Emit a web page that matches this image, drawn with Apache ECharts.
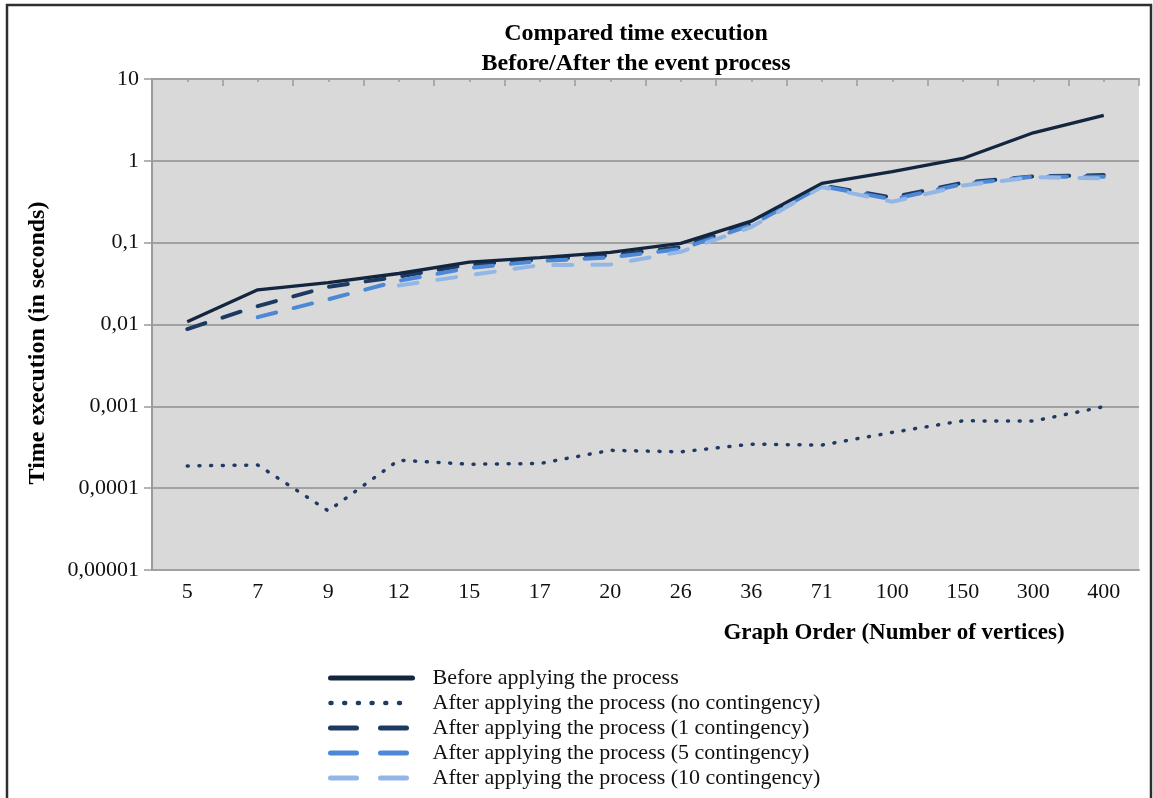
<!DOCTYPE html>
<html>
<head>
<meta charset="utf-8">
<script src="https://cdn.jsdelivr.net/npm/echarts@6/dist/echarts.min.js"></script>
<style>
html,body{margin:0;padding:0;background:#fff;}
#chart{width:1153px;height:798px;}
</style>
</head>
<body>
<div id="chart"></div>
<script>
// ---- data ----
const categories = ['5','7','9','12','15','17','20','26','36','71','100','150','300','400'];
const beforeProcess   = [0.0108, 0.0265, 0.0325, 0.042, 0.058, 0.0655, 0.076, 0.098, 0.183, 0.53, 0.74, 1.07, 2.2, 3.6];
const noContingency   = [0.000187, 0.000192, 0.0000528, 0.00022, 0.000196, 0.0002, 0.00029, 0.000278, 0.000345, 0.000336, 0.00048, 0.000665, 0.00066, 0.00099];
const oneContingency  = [0.0088, 0.0168, 0.0289, 0.0385, 0.054, 0.062, 0.07, 0.088, 0.17, 0.5, 0.357, 0.54, 0.645, 0.67];
const fiveContingency = [null, 0.0123, 0.0203, 0.0342, 0.049, 0.0597, 0.066, 0.0835, 0.164, 0.49, 0.338, 0.52, 0.64, 0.64];
const tenContingency  = [null, null, null, 0.030, 0.040, 0.053, 0.054, 0.0774, 0.155, 0.48, 0.316, 0.50, 0.63, 0.61];
const yTickLabels = ['0,00001','0,0001','0,001','0,01','0,1','1','10'];
const seriesNames = [
  'Before applying the process',
  'After applying the process (no contingency)',
  'After applying the process (1 contingency)',
  'After applying the process (5 contingency)',
  'After applying the process (10 contingency)'
];
const titleLines = ['Compared time execution', 'Before/After the event process'];
const yName = 'Time execution (in seconds)';
const xName = 'Graph Order (Number of vertices)';

const SERIF = '"Liberation Serif", "DejaVu Serif", serif';
const colors = ['#13263f', '#1f3a63', '#1d3a62', '#4c88d6', '#92b7e6'];

const chart = echarts.init(document.getElementById('chart'), null, {renderer: 'canvas'});

function lineSeries(i, data, lineStyle, z) {
  return {
    name: seriesNames[i],
    type: 'line',
    data: data,
    symbol: 'none',
    connectNulls: false,
    z: z,
    lineStyle: Object.assign({color: colors[i]}, lineStyle),
    itemStyle: {color: colors[i]}
  };
}

const option = {
  backgroundColor: '#ffffff',
  animation: false,
  title: {
    text: titleLines.join('\n'),
    left: 636,
    textAlign: 'center',
    top: 19,
    padding: 0,
    textStyle: {fontFamily: SERIF, fontWeight: 'bold', fontSize: 24, lineHeight: 30, color: '#000'}
  },
  grid: {
    left: 152, right: 14, top: 79, bottom: 228,
    show: true, backgroundColor: '#d9d9d9', borderWidth: 0
  },
  xAxis: [{
    type: 'category',
    data: categories,
    boundaryGap: true,
    position: 'bottom',
    axisLine: {show: true, lineStyle: {color: '#a0a0a0', width: 2}},
    axisTick: {show: false},
    axisLabel: {fontFamily: SERIF, fontSize: 22, color: '#111', margin: 11}
  }, {
    type: 'value',
    position: 'top',
    min: 0, max: 14, interval: 1,
    axisLine: {show: true, lineStyle: {color: '#a0a0a0', width: 2}},
    axisTick: {show: true, inside: true, length: 7, lineStyle: {color: '#9a9a9a', width: 1.5}},
    minorTick: {show: true, splitNumber: 2, length: 3, lineStyle: {color: '#9a9a9a', width: 1.5}},
    axisLabel: {show: false},
    splitLine: {show: false}
  }],
  yAxis: {
    type: 'log',
    logBase: 10,
    min: 0.00001,
    max: 10,
    interval: 1,
    axisLine: {show: true, lineStyle: {color: '#9a9a9a', width: 2}},
    axisTick: {show: true, length: 8, lineStyle: {color: '#9a9a9a', width: 1.5}},
    splitLine: {show: true, lineStyle: {color: '#8e8e8e', width: 1.5}},
    axisLabel: {
      fontFamily: SERIF, fontSize: 22, color: '#111', margin: 13,
      formatter: function (v) {
        const k = Math.round(Math.log10(v)) + 5;
        return yTickLabels[k] !== undefined ? yTickLabels[k] : '';
      }
    }
  },
  legend: {
    orient: 'vertical',
    left: 323,
    top: 662,
    itemWidth: 82,
    itemHeight: 14,
    itemGap: 3,
    selectedMode: false,
    textStyle: {fontFamily: SERIF, fontSize: 22, color: '#111', padding: [0, 0, 0, 15]},
    data: [
      {name: seriesNames[0], itemStyle: {opacity: 0}, lineStyle: {width: 5, type: 'solid', cap: 'round'}},
      {name: seriesNames[1], itemStyle: {opacity: 0}, lineStyle: {width: 4.5, type: [1, 12.7], cap: 'round'}},
      {name: seriesNames[2], itemStyle: {opacity: 0}, lineStyle: {width: 5, type: [26, 24], cap: 'round'}},
      {name: seriesNames[3], itemStyle: {opacity: 0}, lineStyle: {width: 5, type: [26, 24], cap: 'round'}},
      {name: seriesNames[4], itemStyle: {opacity: 0}, lineStyle: {width: 5, type: [26, 24], cap: 'round'}}
    ]
  },
  graphic: [
    {
      type: 'rect', silent: true, z: 100,
      shape: {x: 7, y: 5, width: 1144, height: 810},
      style: {fill: 'none', stroke: '#2e2e2e', lineWidth: 2.5}
    },
    {
      type: 'text', silent: true,
      x: 38, y: 343, rotation: Math.PI / 2,
      style: {text: yName, fontFamily: SERIF, fontWeight: 'bold', fontSize: 24, fill: '#000', align: 'center', verticalAlign: 'middle'}
    },
    {
      type: 'text', silent: true,
      x: 894, y: 633,
      style: {text: xName, fontFamily: SERIF, fontWeight: 'bold', fontSize: 23, fill: '#000', align: 'center', verticalAlign: 'middle'}
    }
  ],
  series: [
    lineSeries(0, beforeProcess, {width: 3.3, type: 'solid'}, 6),
    lineSeries(1, noContingency, {width: 3.5, type: [1, 10.7], cap: 'round'}, 5),
    lineSeries(2, oneContingency, {width: 4, type: [19, 18], cap: 'round'}, 2),
    lineSeries(3, fiveContingency, {width: 4, type: [19, 18], cap: 'round'}, 3),
    lineSeries(4, tenContingency, {width: 4, type: [19, 20], cap: 'round'}, 4)
  ]
};

chart.setOption(option);
</script>
</body>
</html>
